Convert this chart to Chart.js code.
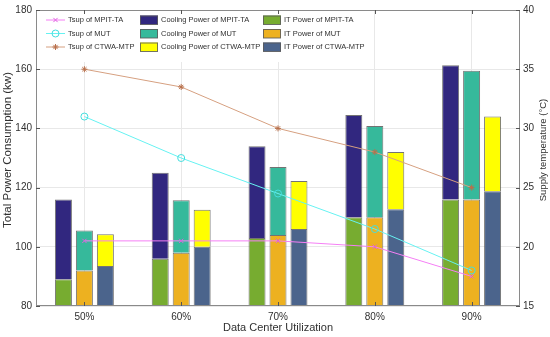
<!DOCTYPE html>
<html>
<head>
<meta charset="utf-8">
<script src="https://cdn.jsdelivr.net/npm/chart.js@4/dist/chart.umd.min.js"></script>
<style>
  html, body { margin: 0; padding: 0; background: #fff; }
  #wrap { width: 550px; height: 337px; }
</style>
</head>
<body>
<div id="wrap"><canvas id="c" width="550" height="337"></canvas></div>
<script>
// values
var utilization = ['50%', '60%', '70%', '80%', '90%'];

// supply temperature (°C), right axis
var tsupMpit = [20.5, 20.5, 20.5, 20, 17.5];
var tsupMut = [31, 27.5, 24.5, 21.5, 18];
var tsupCtwa = [35, 33.5, 30, 28, 25];

// power (kw), IT at the bottom, cooling stacked on top
var itMpit = [89, 96, 103, 110, 116];
var itMut = [92, 98, 104, 110, 116];
var itCtwa = [93.5, 100, 106, 112.7, 118.8];
var coolMpit = [27, 29, 31, 34.5, 45.3];
var coolMut = [13.5, 17.7, 23, 30.8, 43.5];
var coolCtwa = [10.7, 12.5, 16.2, 19.3, 25.2];

var powerRange = [80, 180];
var tempRange = [15, 40];

var textColor = '#303030';
var fontName = '"Liberation Sans", Arial, sans-serif';

function lineSet(label, data, color, markColor, style, radius) {
    return {
        type: 'line',
        label: label,
        data: data,
        yAxisID: 'y2',
        borderColor: color,
        borderWidth: 1,
        pointStyle: style,
        pointRadius: radius,
        pointBorderColor: markColor,
        pointBackgroundColor: 'rgba(0,0,0,0)',
        pointBorderWidth: 1,
        order: 0
    };
}

function barSet(label, data, color, stack) {
    return {
        type: 'bar',
        label: label,
        data: data,
        yAxisID: 'y',
        stack: stack,
        backgroundColor: color,
        borderColor: 'rgba(90,90,90,0.85)',
        borderWidth: 1,
        categoryPercentage: 0.65,
        barPercentage: 0.81,
        order: 1
    };
}

var datasets = [
    lineSet('Tsup of MPIT-TA', tsupMpit, '#f57ff5', '#e060e0', 'crossRot', 3),
    lineSet('Tsup of MUT', tsupMut, '#66f2f2', '#44dede', 'circle', 3.5),
    lineSet('Tsup of CTWA-MTP', tsupCtwa, '#d6a080', '#b8704c', 'star', 3),
    barSet('IT Power of MPIT-TA', itMpit, '#77ac30', 'mpit'),
    barSet('IT Power of MUT', itMut, '#edb120', 'mut'),
    barSet('IT Power of CTWA-MTP', itCtwa, '#4b648c', 'ctwa'),
    barSet('Cooling Power of MPIT-TA', coolMpit, '#31277f', 'mpit'),
    barSet('Cooling Power of MUT', coolMut, '#36b99b', 'mut'),
    barSet('Cooling Power of CTWA-MTP', coolCtwa, '#ffff00', 'ctwa')
];

// legend is 3 columns, filled top to bottom like the original
var legendCols = [[0, 1, 2], [6, 7, 8], [3, 4, 5]];

// draws box, inward ticks, legend and the axis titles
var framePlugin = {
    id: 'framePlugin',
    afterDraw: function(chart) {
        let ctx = chart.ctx;
        let a = chart.chartArea;
        let xs = chart.scales.x, ys = chart.scales.y, y2 = chart.scales.y2;
        ctx.save();

        // legend
        ctx.fillStyle = '#fff';
        ctx.fillRect(a.left + 1, a.top + 2, 326, 50);
        let colX = [a.left + 10, a.left + 104, a.left + 227];
        let rowY = [20, 33.5, 47];
        ctx.font = '7.5px ' + fontName;
        ctx.textBaseline = 'middle';
        ctx.textAlign = 'left';
        legendCols.forEach(function(col, ci) {
            col.forEach(function(di, ri) {
                let ds = chart.data.datasets[di];
                let x = colX[ci], y = rowY[ri];
                if (ds.type === 'line') {
                    ctx.strokeStyle = ds.borderColor;
                    ctx.lineWidth = 1;
                    ctx.beginPath();
                    ctx.moveTo(x, y);
                    ctx.lineTo(x + 19, y);
                    ctx.stroke();
                    ctx.strokeStyle = ds.pointBorderColor;
                    ctx.fillStyle = 'rgba(0,0,0,0)';
                    Chart.helpers.drawPoint(ctx, {
                        pointStyle: ds.pointStyle, radius: ds.pointRadius, borderWidth: 1, rotation: 0
                    }, x + 9.5, y);
                    ctx.fillStyle = textColor;
                    ctx.fillText(ds.label, x + 22, y);
                } else {
                    ctx.fillStyle = ds.backgroundColor;
                    ctx.fillRect(x, y - 4.5, 18, 9);
                    ctx.strokeStyle = 'rgba(90,90,90,0.85)';
                    ctx.lineWidth = 1;
                    ctx.strokeRect(x + 0.5, y - 4, 17, 8.5);
                    ctx.fillStyle = textColor;
                    ctx.fillText(ds.label, x + 21, y);
                }
            });
        });

        // axes box
        ctx.strokeStyle = '#8a8a8a';
        ctx.lineWidth = 1;
        ctx.strokeRect(Math.round(a.left) + 0.5, Math.round(a.top) + 0.5,
            Math.round(a.right - a.left) - 1, Math.round(a.bottom - a.top) - 1);

        // inward ticks
        ctx.strokeStyle = '#555';
        ctx.beginPath();
        xs.ticks.forEach(function(t, i) {
            let px = Math.round(xs.getPixelForTick(i)) + 0.5;
            ctx.moveTo(px, a.bottom); ctx.lineTo(px, a.bottom - 4);
            ctx.moveTo(px, a.top); ctx.lineTo(px, a.top + 4);
        });
        ys.ticks.forEach(function(t) {
            let py = Math.round(ys.getPixelForValue(t.value)) + 0.5;
            ctx.moveTo(a.left, py); ctx.lineTo(a.left + 4, py);
        });
        y2.ticks.forEach(function(t) {
            let py = Math.round(y2.getPixelForValue(t.value)) + 0.5;
            ctx.moveTo(a.right, py); ctx.lineTo(a.right - 4, py);
        });
        ctx.stroke();

        // titles
        ctx.fillStyle = textColor;
        ctx.textAlign = 'center';
        ctx.textBaseline = 'middle';
        ctx.font = '11px ' + fontName;
        ctx.fillText('Data Center Utilization', (a.left + a.right) / 2, 328);

        ctx.save();
        ctx.translate(8, 150);
        ctx.rotate(-Math.PI / 2);
        ctx.font = '11.5px ' + fontName;
        ctx.fillText('Total Power Consumption (kw)', 0, 0);
        ctx.restore();

        ctx.save();
        ctx.translate(543, 150);
        ctx.rotate(-Math.PI / 2);
        ctx.font = '9.5px ' + fontName;
        ctx.fillText('Supply temperature (°C)', 0, 0);
        ctx.restore();

        ctx.restore();
    }
};

var config = {
    type: 'bar',
    data: {
        labels: utilization,
        datasets: datasets
    },
    options: {
        responsive: false,
        animation: false,
        layout: { padding: { top: 7, left: 0, right: 0, bottom: 0 } },
        plugins: {
            legend: { display: false },
            tooltip: { enabled: false }
        },
        scales: {
            x: {
                stacked: true,
                offset: true,
                grid: { color: '#e8e8e8', offset: false, drawTicks: false },
                border: { display: false },
                ticks: { color: textColor, font: { family: fontName, size: 10 }, padding: 5 },
                afterFit: function(scale) { scale.height = 31; }
            },
            y: {
                stacked: true,
                position: 'left',
                min: powerRange[0],
                max: powerRange[1],
                grid: { color: '#e8e8e8', drawTicks: false },
                border: { display: false },
                ticks: { stepSize: 20, color: textColor, font: { family: fontName, size: 10 }, padding: 4 },
                afterFit: function(scale) { scale.width = 36; }
            },
            y2: {
                position: 'right',
                min: tempRange[0],
                max: tempRange[1],
                grid: { display: false, drawTicks: false },
                border: { display: false },
                ticks: { stepSize: 5, color: textColor, font: { family: fontName, size: 10 }, padding: 3 },
                afterFit: function(scale) { scale.width = 30; }
            }
        }
    },
    plugins: [framePlugin]
};

const chart1 = new Chart(document.getElementById('c'), config);
</script>
</body>
</html>
